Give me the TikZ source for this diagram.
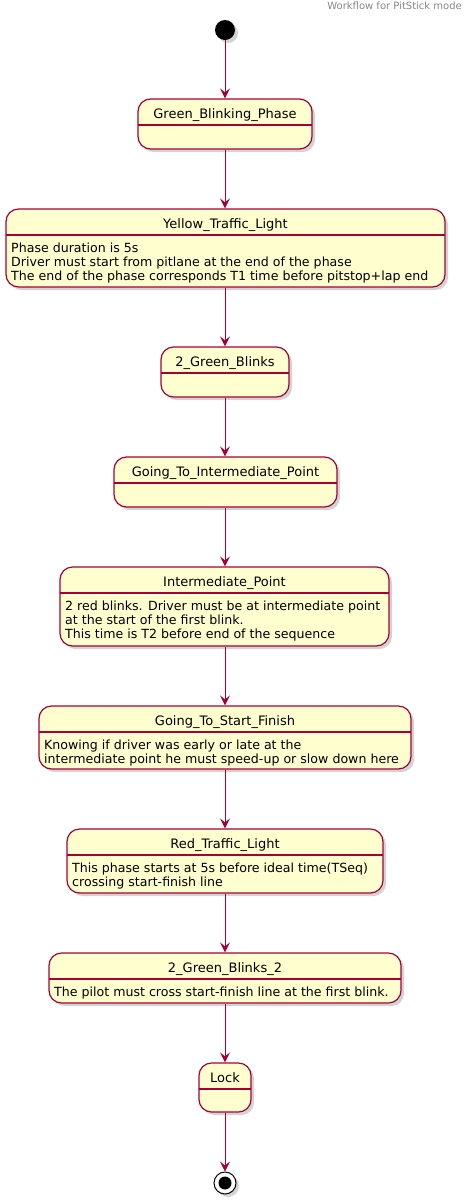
\documentclass[tikz,border=0pt]{standalone}
\usepackage{fontspec}
\setmainfont{DejaVu Sans}
\usetikzlibrary{arrows.meta,shadows}

\definecolor{umlred}{HTML}{A80036}
\definecolor{umlfill}{HTML}{FEFECE}

\tikzset{
    state/.style={draw=umlred, fill=umlfill, line width=1.2pt, rounded corners=12.5pt,
        inner sep=0pt, drop shadow={shadow xshift=3pt, shadow yshift=-3pt, opacity=0.35}},
    sline/.style={draw=umlred, line width=1.2pt},
    trans/.style={draw=umlred, line width=1pt, -{Stealth[length=10pt,width=10pt,inset=4pt]}},
    stitle/.style={anchor=base, inner sep=0pt, font=\fontsize{13}{15}\selectfont},
    % base of a multi-line node is the baseline of its last line
    sbody/.style={anchor=base west, inner sep=0pt, align=left, font=\fontsize{12.6}{14}\selectfont}
}

\begin{document}
\begin{tikzpicture}[x=1pt, y=-1pt]
    \useasboundingbox (0, 0) rectangle (473, 1203);

    \node[anchor=base east, inner sep=0pt, text={rgb,255:red,136;green,136;blue,136},
        font=\fontsize{10}{12}\selectfont] (hdr) at (462, 9) {Workflow for PitStick mode};

    % start and end points
    \node[circle, fill=black, minimum size=20pt, inner sep=0pt,
        drop shadow={shadow xshift=3pt, shadow yshift=-3pt, opacity=0.35}] (start) at (225, 30) {};
    \node[circle, draw=black, fill=white, line width=1pt, minimum size=22pt, inner sep=0pt,
        drop shadow={shadow xshift=3pt, shadow yshift=-3pt, opacity=0.35}] (stop) at (225, 1183) {};
    \node[circle, fill=black, minimum size=13pt, inner sep=0pt] (stopdot) at (stop) {};

    % states
    \node[state, minimum width=174pt, minimum height=50pt] (gbp) at (225, 124) {};
    \draw[sline] (138, 125) -- (312, 125);
    \node[stitle] (gbpname) at (225, 118.5) {Green\_Blinking\_Phase};

    \node[state, minimum width=439pt, minimum height=78pt] (ytl) at (225.5, 248) {};
    \draw[sline] (6, 235) -- (445, 235);
    \node[stitle] (ytlname) at (225.5, 228.5) {Yellow\_Traffic\_Light};
    \node[sbody] (ytltext) at (11, 280) {Phase duration is 5s\\
        Driver must start from pitlane at the end of the phase\\
        The end of the phase corresponds T1 time before pitstop+lap end};

    \node[state, minimum width=128pt, minimum height=50pt] (tgb) at (225, 372) {};
    \draw[sline] (161, 373) -- (289, 373);
    \node[stitle] (tgbname) at (225, 366.5) {2\_Green\_Blinks};

    \node[state, minimum width=223pt, minimum height=50pt] (gtip) at (225.5, 482) {};
    \draw[sline] (114, 483) -- (337, 483);
    \node[stitle] (gtipname) at (225.5, 476.5) {Going\_To\_Intermediate\_Point};

    \node[state, minimum width=329pt, minimum height=79pt] (ip) at (224.5, 606.5) {};
    \draw[sline] (60, 593) -- (389, 593);
    \node[stitle] (ipname) at (224.5, 586.5) {Intermediate\_Point};
    \node[sbody] (iptext) at (65, 638) {2 red blinks. Driver must be at intermediate point\\
        at the start of the first blink.\\
        This time is T2 before end of the sequence};

    \node[state, minimum width=372pt, minimum height=63pt] (gtsf) at (225, 737.5) {};
    \draw[sline] (39, 732) -- (411, 732);
    \node[stitle] (gtsfname) at (225, 725.5) {Going\_To\_Start\_Finish};
    \node[sbody] (gtsftext) at (44, 763) {Knowing if driver was early or late at the\\
        intermediate point he must speed-up or slow down here};

    \node[state, minimum width=316pt, minimum height=64pt] (rtl) at (225, 861) {};
    \draw[sline] (67, 855) -- (383, 855);
    \node[stitle] (rtlname) at (225, 848.5) {Red\_Traffic\_Light};
    \node[sbody] (rtltext) at (72, 886) {This phase starts at 5s before ideal time(TSeq)\\
        crossing start-finish line};

    \node[state, minimum width=352pt, minimum height=50pt] (tgbb) at (225, 978) {};
    \draw[sline] (49, 979) -- (401, 979);
    \node[stitle] (tgbbname) at (225, 972.5) {2\_Green\_Blinks\_2};
    \node[sbody] (tgbbtext) at (54, 996) {The pilot must cross start-finish line at the first blink.};

    \node[state, minimum width=52pt, minimum height=49pt] (lock) at (225, 1087.5) {};
    \draw[sline] (199, 1089) -- (251, 1089);
    \node[stitle] (lockname) at (225, 1082.5) {Lock};

    % transitions
    \draw[trans] (start) -- (start |- gbp.north);
    \draw[trans] (gbp) -- (gbp |- ytl.north);
    \draw[trans] (ytl.south -| gbp) -- (tgb);
    \draw[trans] (tgb) -- (tgb |- gtip.north);
    \draw[trans] (gtip.south -| tgb) -- (tgb |- ip.north);
    \draw[trans] (ip.south -| tgb) -- (tgb |- gtsf.north);
    \draw[trans] (gtsf) -- (gtsf |- rtl.north);
    \draw[trans] (rtl) -- (rtl |- tgbb.north);
    \draw[trans] (tgbb) -- (lock);
    \draw[trans] (lock) -- (stop);
\end{tikzpicture}
\end{document}
